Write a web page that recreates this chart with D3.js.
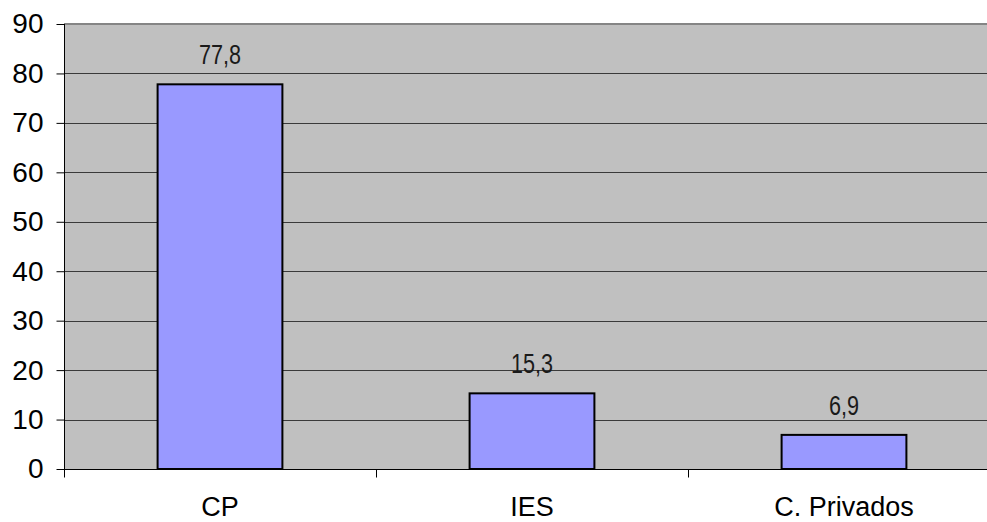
<!DOCTYPE html>
<html>
<head>
<meta charset="utf-8">
<script src="https://cdn.jsdelivr.net/npm/d3@7"></script>
<style>
  html, body { margin: 0; padding: 0; background: #fff; }
  svg { display: block; }
</style>
</head>
<body>
<svg id="chart" width="987" height="522"></svg>
<script>
// Distribution by type of centre (%)
const categories = ["CP", "IES", "C. Privados"];
const values = [77.8, 15.3, 6.9];
const valueLabels = ["77,8", "15,3", "6,9"];
const yTicks = [0, 10, 20, 30, 40, 50, 60, 70, 80, 90];

const svg = d3.select("#chart");
const plotLeft = 64, plotRight = 1000, plotTop = 24, plotBottom = 469;

const x = d3.scaleBand()
  .domain(categories)
  .range([plotLeft, plotRight])
  .paddingInner(0.6)
  .paddingOuter(0.3);

const xOuter = d3.scaleBand().domain(categories).range([plotLeft, plotRight]);

const y = d3.scaleLinear().domain([0, 90]).range([plotBottom, plotTop]);

// plot background
svg.append("rect")
  .attr("x", plotLeft).attr("y", plotTop)
  .attr("width", plotRight - plotLeft).attr("height", plotBottom - plotTop)
  .attr("fill", "#C0C0C0");

// horizontal gridlines
svg.append("g")
  .selectAll("line")
  .data(yTicks.filter(d => d > 0 && d < 90))
  .join("line")
  .attr("x1", plotLeft).attr("x2", plotRight)
  .attr("y1", d => Math.round(y(d)) + 0.5)
  .attr("y2", d => Math.round(y(d)) + 0.5)
  .attr("stroke", "#3a3a3a")
  .attr("stroke-width", 1);

// top border line
svg.append("line")
  .attr("x1", plotLeft).attr("x2", plotRight)
  .attr("y1", y(90)).attr("y2", y(90))
  .attr("stroke", "#858585")
  .attr("stroke-width", 2);

// bars
svg.append("g")
  .selectAll("rect")
  .data(values)
  .join("rect")
  .attr("x", (d, i) => x(categories[i]))
  .attr("y", d => y(d))
  .attr("width", x.bandwidth())
  .attr("height", d => y(0) - y(d))
  .attr("fill", "#9999FF")
  .attr("stroke", "#000")
  .attr("stroke-width", 2);

// value labels (condensed face)
svg.append("g")
  .selectAll("text")
  .data(values)
  .join("text")
  .attr("transform", (d, i) =>
    `translate(${x(categories[i]) + x.bandwidth() / 2},${y(d) - 20}) scale(0.8,1)`)
  .attr("text-anchor", "middle")
  .attr("font-family", "Arial, 'Liberation Sans', sans-serif")
  .attr("font-size", 27)
  .attr("fill", "#1a1a1a")
  .text((d, i) => valueLabels[i]);

// y axis
const yAxis = d3.axisLeft(y).tickValues(yTicks).tickSize(8).tickPadding(13);
const gy = svg.append("g")
  .attr("transform", `translate(${plotLeft + 0.5},0)`)
  .call(yAxis);
gy.select(".domain").attr("stroke", "#000").attr("d", `M0,${plotTop}V${plotBottom}`);
gy.selectAll(".tick line").attr("stroke", "#000");
gy.selectAll(".tick text")
  .attr("font-family", "Arial, 'Liberation Sans', sans-serif")
  .attr("font-size", 28)
  .attr("fill", "#000");

// x axis
const xAxis = d3.axisBottom(xOuter).tickSize(0).tickFormat(d => d).tickPadding(27);
const gx = svg.append("g")
  .attr("transform", `translate(0,${plotBottom + 0.5})`)
  .call(xAxis);
gx.select(".domain").attr("stroke", "#000").attr("d", `M${plotLeft},0H${plotRight}`);
gx.selectAll(".tick text")
  .attr("font-family", "Arial, 'Liberation Sans', sans-serif")
  .attr("font-size", 27)
  .attr("fill", "#000");
// category boundary ticks
gx.append("g").selectAll("line")
  .data(categories.map(c => xOuter(c)).concat([plotRight]))
  .join("line")
  .attr("x1", d => Math.round(d) + 0.5).attr("x2", d => Math.round(d) + 0.5)
  .attr("y1", 0).attr("y2", 8)
  .attr("stroke", "#000");
</script>
</body>
</html>
